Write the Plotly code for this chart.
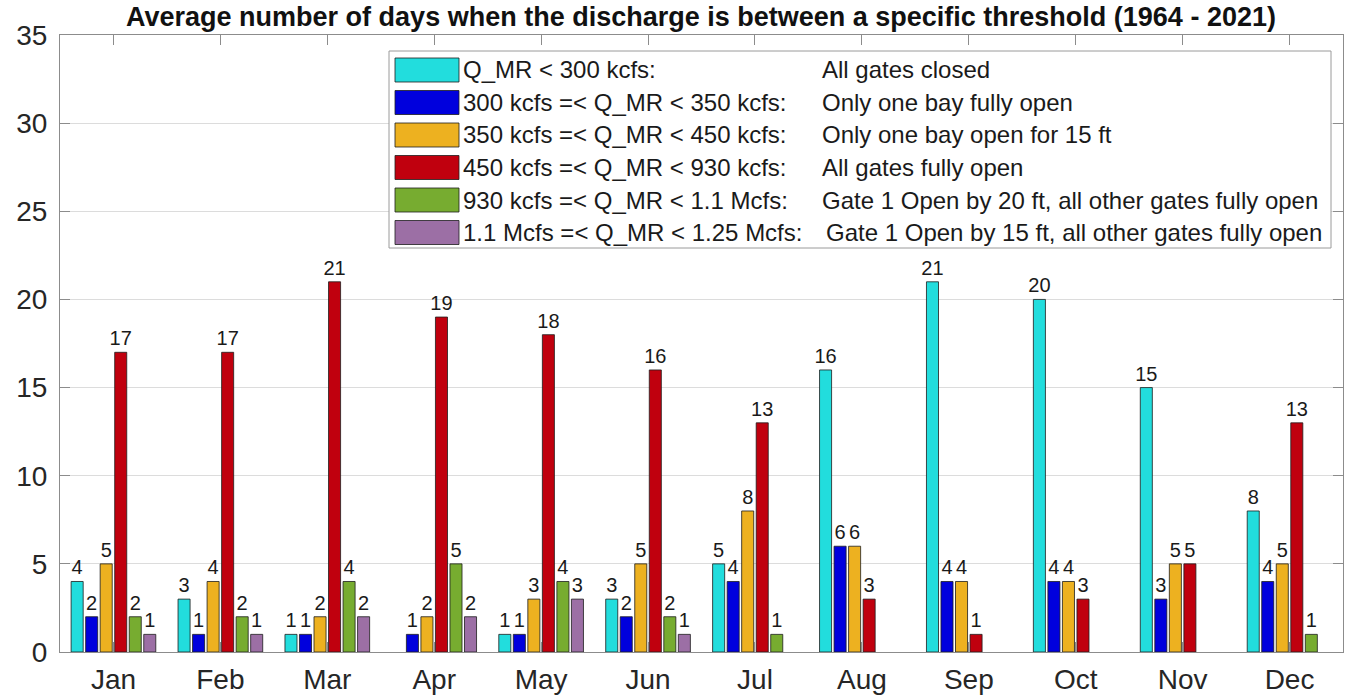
import plotly.graph_objects as go

months = ["Jan", "Feb", "Mar", "Apr", "May", "Jun", "Jul", "Aug", "Sep", "Oct", "Nov", "Dec"]

range_labels = [
    "Q_MR < 300 kcfs:",
    "300 kcfs =< Q_MR < 350 kcfs:",
    "350 kcfs =< Q_MR < 450 kcfs:",
    "450 kcfs =< Q_MR < 930 kcfs:",
    "930 kcfs =< Q_MR < 1.1 Mcfs:",
    "1.1 Mcfs =< Q_MR < 1.25 Mcfs:",
]
action_labels = [
    "All gates closed",
    "Only one bay fully open",
    "Only one bay open for 15 ft",
    "All gates fully open",
    "Gate 1 Open by 20 ft, all other gates fully open",
    "Gate 1 Open by 15 ft, all other gates fully open",
]

q_lt_300 = [4, 3, 1, 0, 1, 3, 5, 16, 21, 20, 15, 8]
q_300_350 = [2, 1, 1, 1, 1, 2, 4, 6, 4, 4, 3, 4]
q_350_450 = [5, 4, 2, 2, 3, 5, 8, 6, 4, 4, 5, 5]
q_450_930 = [17, 17, 21, 19, 18, 16, 13, 3, 1, 3, 5, 13]
q_930_1100 = [2, 2, 4, 5, 4, 2, 1, 0, 0, 0, 0, 1]
q_1100_1250 = [1, 1, 2, 2, 3, 1, 0, 0, 0, 0, 0, 0]

series = [q_lt_300, q_300_350, q_350_450, q_450_930, q_930_1100, q_1100_1250]
colors = ["#22DDDD", "#0000DD", "#EDB120", "#C0000E", "#77AC30", "#9C6FA5"]

y_ticks = [0, 5, 10, 15, 20, 25, 30, 35]

W, H = 1350, 697
L, R, T, B = 60, 7, 35, 45
pw, ph = W - L - R, H - T - B


def px_x(px):
    return (px - L) / pw


def px_y(py):
    return (H - B - py) / ph


fig = go.Figure()
for name, vals, col in zip(range_labels, series, colors):
    fig.add_trace(go.Bar(
        x=months, y=[v if v else None for v in vals], name=name,
        marker=dict(color=col, line=dict(color="rgba(30,30,30,0.8)", width=1)),
        text=[str(v) if v else "" for v in vals],
        textposition="outside", constraintext="none", cliponaxis=False,
        textfont=dict(size=20, color="#1a1a1a", family="Liberation Sans, Arial"),
        showlegend=False,
    ))

axis_col = "#8c8c8c"
fig.update_layout(
    width=W, height=H,
    margin=dict(l=L, r=R, t=T, b=B, autoexpand=False),
    paper_bgcolor="white", plot_bgcolor="white",
    barmode="group", bargap=0.185, bargroupgap=0.17,
    font=dict(family="Liberation Sans, Arial", color="#262626"),
    title=dict(
        text="<b>Average number of days when the discharge is between a specific threshold (1964 - 2021)</b>",
        x=px_x(701), xref="paper", xanchor="center",
        y=1 - 17 / H, yanchor="middle",
        font=dict(size=27, color="#111111"),
    ),
    xaxis=dict(
        range=[-0.5, 11.5], showline=True, linecolor=axis_col, linewidth=1, mirror="allticks",
        ticks="inside", ticklen=10, tickcolor=axis_col, showgrid=False, automargin=False,
        tickfont=dict(size=28, color="#262626"), ticklabelstandoff=2,
    ),
    yaxis=dict(
        range=[0, 35], tickvals=y_ticks, showline=True, linecolor=axis_col, linewidth=1,
        mirror="allticks", ticks="inside", ticklen=10, tickcolor=axis_col, automargin=False,
        showgrid=True, gridcolor="#dcdcdc", gridwidth=1, zeroline=False,
        tickfont=dict(size=28, color="#262626"), ticklabelstandoff=6,
    ),
)

# Legend box (drawn manually to reproduce two aligned text columns)
shapes = [dict(type="rect", xref="paper", yref="paper",
               x0=px_x(389), x1=px_x(1331), y0=px_y(248), y1=px_y(51),
               line=dict(color="#9a9a9a", width=1), fillcolor="white", layer="above")]
annotations = []
for i, (rl, al, col) in enumerate(zip(range_labels, action_labels, colors)):
    cy = 70 + 32.5 * i
    shapes.append(dict(type="rect", xref="paper", yref="paper",
                       x0=px_x(395), x1=px_x(459), y0=px_y(cy + 12), y1=px_y(cy - 12),
                       fillcolor=col, line=dict(color="rgba(30,30,30,0.8)", width=1), layer="above"))
    annotations.append(dict(xref="paper", yref="paper", x=px_x(461), y=px_y(cy),
                            xanchor="left", yanchor="middle", text=rl, showarrow=False,
                            font=dict(size=24, color="#1a1a1a")))
    annotations.append(dict(xref="paper", yref="paper", x=px_x(820 if i < 5 else 824), y=px_y(cy),
                            xanchor="left", yanchor="middle", text=al, showarrow=False,
                            font=dict(size=24, color="#1a1a1a")))

fig.update_layout(shapes=shapes, annotations=annotations)

fig.write_html(
    "out.html",
    config={"displayModeBar": False},
    post_script="document.body.style.margin='0';document.body.style.overflow='hidden';",
)
